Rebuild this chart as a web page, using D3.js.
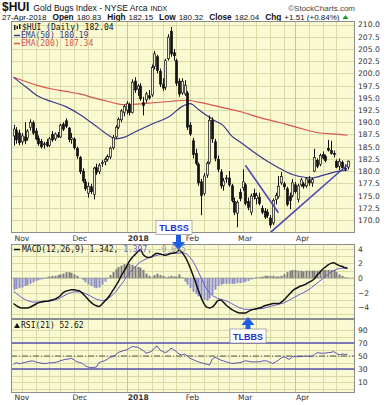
<!DOCTYPE html>
<html><head><meta charset="utf-8">
<script src="https://cdn.jsdelivr.net/npm/d3@7"></script>
<style>body{margin:0;background:#fff}svg{display:block}</style>
</head><body>
<svg id="chart" width="390" height="405"></svg>
<script>
// Trading days shown on the chart
const dates = ("2017-11-01 2017-11-02 2017-11-03 2017-11-06 2017-11-07 2017-11-08 2017-11-09 2017-11-10 2017-11-13 2017-11-14 2017-11-15 2017-11-16 2017-11-17 2017-11-20 2017-11-21 2017-11-22 2017-11-24 2017-11-27 2017-11-28 2017-11-29 2017-11-30 " +
  "2017-12-01 2017-12-04 2017-12-05 2017-12-06 2017-12-07 2017-12-08 2017-12-11 2017-12-12 2017-12-13 2017-12-14 2017-12-15 2017-12-18 2017-12-19 2017-12-20 2017-12-21 2017-12-22 2017-12-26 2017-12-27 2017-12-28 2017-12-29 " +
  "2018-01-02 2018-01-03 2018-01-04 2018-01-05 2018-01-08 2018-01-09 2018-01-10 2018-01-11 2018-01-12 2018-01-16 2018-01-17 2018-01-18 2018-01-19 2018-01-22 2018-01-23 2018-01-24 2018-01-25 2018-01-26 2018-01-29 2018-01-30 2018-01-31 " +
  "2018-02-01 2018-02-02 2018-02-05 2018-02-06 2018-02-07 2018-02-08 2018-02-09 2018-02-12 2018-02-13 2018-02-14 2018-02-15 2018-02-16 2018-02-20 2018-02-21 2018-02-22 2018-02-23 2018-02-26 2018-02-27 2018-02-28 " +
  "2018-03-01 2018-03-02 2018-03-05 2018-03-06 2018-03-07 2018-03-08 2018-03-09 2018-03-12 2018-03-13 2018-03-14 2018-03-15 2018-03-16 2018-03-19 2018-03-20 2018-03-21 2018-03-22 2018-03-23 2018-03-26 2018-03-27 2018-03-28 2018-03-29 " +
  "2018-04-02 2018-04-03 2018-04-04 2018-04-05 2018-04-06 2018-04-09 2018-04-10 2018-04-11 2018-04-12 2018-04-13 2018-04-16 2018-04-17 2018-04-18 2018-04-19 2018-04-20 2018-04-23 2018-04-24 2018-04-25 2018-04-26 2018-04-27").split(" ");

// $HUI daily OHLC
const open = [187.2,188.3,187.8,186.0,187.0,186.8,188.9,189.9,188.2,186.7,186.1,185.4,185.9,185.3,187.5,186.6,187.4,187.0,189.6,190.3,188.8,
  186.5,186.6,184.6,182.8,180.0,177.8,175.5,176.8,175.2,180.7,179.9,181.6,181.9,182.4,182.9,184.8,187.0,189.0,190.5,192.0,
  192.5,193.6,192.0,198.4,196.8,197.4,194.0,194.6,195.4,195.6,201.4,203.4,200.4,197.8,197.2,203.0,208.6,204.2,202.6,198.4,196.0,
  195.8,196.0,189.4,186.2,183.6,181.4,177.8,175.4,179.2,181.8,190.4,186.0,182.4,179.8,177.0,178.4,178.6,177.0,173.8,
  171.4,175.6,176.6,177.2,173.8,171.6,175.4,174.4,174.6,172.4,171.8,171.6,170.4,169.4,174.2,174.8,177.6,177.4,176.4,174.8,175.0,
  177.2,174.2,177.2,177.4,177.0,178.2,177.6,180.0,182.2,181.4,183.4,183.0,184.6,184.2,183.6,182.0,181.0,181.8,180.6,180.83];
const high = [189.5,189.0,188.5,187.8,190.0,188.6,190.6,190.3,188.8,187.3,186.6,186.0,186.6,187.0,188.2,187.9,188.0,189.7,190.0,190.8,189.0,
  187.8,186.9,185.0,183.1,180.6,178.4,177.7,177.4,180.9,181.5,181.6,182.3,182.8,183.4,185.0,187.4,189.4,191.0,192.7,193.6,
  194.3,194.0,198.8,199.2,197.8,198.0,195.2,196.2,196.6,201.8,204.6,203.8,201.0,199.0,203.0,208.0,209.5,205.0,203.0,199.0,199.0,
  198.6,196.4,190.0,186.8,184.6,181.8,178.4,179.6,182.0,191.4,191.0,186.6,183.2,180.4,178.6,179.2,180.0,177.4,174.6,
  174.0,176.4,180.4,177.6,174.6,175.4,176.4,175.6,175.6,173.0,172.4,172.2,171.0,174.4,175.6,179.0,179.8,177.8,176.8,175.6,178.4,
  177.8,177.4,178.6,177.8,178.8,179.0,178.6,184.6,182.6,183.6,184.0,183.4,186.4,186.2,184.2,182.4,182.6,182.2,181.4,182.15];
const low = [185.2,185.6,185.3,185.4,185.5,186.2,188.3,187.4,186.3,185.2,184.6,184.6,184.9,184.9,186.0,186.2,186.8,186.8,188.2,188.8,185.9,
  185.6,184.4,182.5,179.4,177.6,176.0,174.6,175.3,174.2,179.2,179.4,180.9,181.2,182.0,182.5,184.4,186.6,188.6,190.0,191.2,
  191.6,191.4,191.8,196.0,195.4,194.4,191.4,194.0,194.6,195.2,200.8,200.0,197.2,196.4,196.6,202.6,203.4,202.6,197.4,195.2,195.6,
  195.4,188.4,187.2,182.6,181.2,177.0,171.0,175.0,178.6,181.4,185.8,182.0,179.8,176.4,176.0,177.6,176.8,173.6,171.0,
  168.5,173.8,176.0,173.0,172.0,171.0,174.2,173.2,173.0,171.2,170.2,170.4,168.4,169.0,173.2,174.4,177.2,176.2,172.8,172.2,174.6,
  175.4,173.6,176.8,176.4,176.6,177.0,176.8,179.8,180.6,181.0,182.4,181.8,184.0,183.4,182.8,180.6,180.2,180.4,180.0,180.32];
const close = [188.6,186.4,185.8,187.2,186.2,188.2,190.0,187.8,186.6,185.6,185.0,185.6,185.2,186.6,186.4,187.6,187.0,189.4,188.6,189.2,186.5,
  186.8,184.8,183.1,179.9,178.0,176.4,176.9,175.8,180.6,179.7,181.2,181.8,182.4,183.0,184.7,186.9,189.0,190.6,192.3,193.2,
  193.8,192.0,198.2,196.6,197.4,194.8,193.4,195.8,195.0,201.2,204.0,200.6,197.8,197.0,202.6,207.4,204.0,203.6,198.0,195.8,198.4,
  197.6,189.0,187.6,183.4,181.6,177.6,175.0,179.0,181.6,190.4,186.6,182.6,180.4,177.0,178.0,178.6,177.2,174.0,171.6,
  173.6,174.4,177.8,173.4,172.6,174.9,174.8,175.0,173.4,171.6,170.6,170.9,169.0,174.0,175.0,176.9,178.9,176.8,173.2,174.0,177.6,
  175.8,177.0,178.2,176.9,178.4,177.6,178.3,182.8,181.0,183.2,182.7,182.2,184.3,183.6,183.4,180.8,182.0,180.7,180.53,182.04];

// Moving averages, read at selected sessions
const ema50 = [["2017-11-01",199.2],["2017-11-08",197.0],["2017-11-14",195.3],["2017-11-21",194.2],["2017-11-29",193.2],["2017-12-06",191.6],
  ["2017-12-13",189.6],["2017-12-20",187.5],["2017-12-26",186.6],["2017-12-29",186.9],["2018-01-05",188.0],["2018-01-16",189.6],
  ["2018-01-25",191.4],["2018-01-31",193.2],["2018-02-05",193.8],["2018-02-08",192.6],["2018-02-14",191.0],["2018-02-16",190.3],
  ["2018-02-22",189.3],["2018-02-27",187.2],["2018-03-02",186.0],["2018-03-09",183.9],["2018-03-16",182.0],["2018-03-22",180.7],
  ["2018-03-29",179.3],["2018-04-06",178.7],["2018-04-10",178.6],["2018-04-17",179.3],["2018-04-24",180.0],["2018-04-27",180.19]];
const ema200 = [["2017-11-01",199.2],["2017-11-14",197.5],["2017-11-21",196.8],["2017-11-29",196.3],["2017-12-06",195.8],["2017-12-13",195.0],
  ["2017-12-20",194.3],["2017-12-29",193.6],["2018-01-12",193.9],["2018-01-25",194.3],["2018-02-02",194.5],["2018-02-08",194.1],
  ["2018-02-21",193.1],["2018-03-02",192.2],["2018-03-13",191.0],["2018-03-22",190.0],["2018-04-03",188.9],["2018-04-12",187.9],
  ["2018-04-24",187.5],["2018-04-27",187.34]];

// Hand-drawn trend lines [date, price]
const trendDown = [["2018-03-06",181.2],["2018-03-22",171.5]];
const trendUp = [["2018-03-19",167.4],["2018-04-27",181.3]];

// MACD(12,26,9): line, signal, histogram
const macd = [-3.5,-3.8,-4.0,-4.1,-4.1,-4.1,-4.0,-3.8,-3.6,-3.4,-3.3,-3.2,-3.2,-3.1,-3.0,-2.9,-2.7,-2.4,-2.0,-1.8,-1.7,
  -1.6,-1.6,-1.7,-1.8,-2.1,-2.5,-2.9,-3.3,-3.6,-3.8,-3.9,-3.6,-3.2,-2.8,-2.3,-1.7,-1.1,-0.5,0.3,0.9,
  1.6,2.3,2.8,3.2,3.6,3.9,3.2,2.9,2.8,2.9,3.2,3.4,3.3,3.2,3.1,3.2,3.4,3.4,3.5,3.8,3.5,
  3.0,2.3,1.4,0.4,-0.6,-1.7,-2.7,-3.5,-4.0,-4.1,-4.0,-3.6,-3.1,-3.0,-3.3,-3.7,-4.0,-4.3,-4.5,
  -4.7,-4.8,-4.8,-4.8,-4.6,-4.4,-4.3,-4.2,-4.1,-4.0,-3.8,-3.7,-3.6,-3.5,-3.5,-3.5,-3.3,-3.0,-2.6,-2.2,-1.8,
  -1.5,-1.3,-1.1,-1.0,-0.8,-0.6,-0.4,-0.1,0.4,0.8,1.2,1.5,1.8,2.0,2.1,1.9,1.7,1.6,1.4,1.342];
const signal = [-1.8,-2.1,-2.4,-2.7,-2.9,-3.1,-3.2,-3.3,-3.3,-3.3,-3.3,-3.3,-3.2,-3.2,-3.1,-3.0,-2.9,-2.7,-2.5,-2.3,-2.1,
  -2.0,-1.9,-1.9,-1.9,-2.0,-2.1,-2.3,-2.5,-2.7,-2.9,-3.0,-3.1,-3.0,-2.9,-2.6,-2.3,-1.9,-1.4,-0.9,-0.4,
  0.2,0.7,1.1,1.5,1.9,2.2,2.4,2.6,2.8,2.9,3.0,3.1,3.2,3.2,3.3,3.3,3.3,3.4,3.4,3.4,3.5,
  3.4,3.2,2.8,2.3,1.6,0.8,0.0,-0.8,-1.5,-2.0,-2.4,-2.6,-2.8,-2.9,-3.0,-3.1,-3.3,-3.5,-3.7,
  -3.9,-4.1,-4.2,-4.3,-4.3,-4.3,-4.3,-4.3,-4.2,-4.2,-4.1,-4.0,-3.9,-3.8,-3.7,-3.6,-3.5,-3.4,-3.2,-3.0,-2.8,
  -2.6,-2.4,-2.2,-2.0,-1.8,-1.6,-1.3,-1.0,-0.7,-0.4,-0.1,0.2,0.5,0.8,1.0,1.2,1.3,1.35,1.39,1.397];
const histogram = [-1.6,-1.5,-1.4,-1.3,-1.1,-1.0,-0.8,-0.6,-0.4,-0.3,-0.2,-0.1,0.1,0.2,0.3,0.3,0.4,0.5,0.6,0.8,0.8,
  0.7,0.5,0.3,0.0,-0.3,-0.6,-0.9,-1.1,-1.3,-1.4,-1.3,-0.9,-0.5,-0.1,0.4,0.8,1.2,1.5,1.7,1.9,
  1.9,1.9,1.8,1.6,1.5,1.4,1.1,0.6,0.3,0.1,0.4,0.6,0.4,0.3,0.1,0.2,0.3,0.2,0.2,0.5,0.1,
  -0.5,-0.9,-1.4,-1.9,-2.2,-2.5,-2.8,-3.0,-3.1,-2.8,-2.3,-1.6,-1.1,-0.9,-0.8,-0.8,-0.8,-0.8,-0.8,
  -0.7,-0.7,-0.6,-0.5,-0.4,-0.2,-0.1,0.1,0.1,0.2,0.3,0.3,0.3,0.3,0.2,0.2,0.3,0.5,0.8,1.0,1.1,
  1.1,1.0,1.0,0.9,1.0,1.0,1.0,1.0,1.0,1.1,1.1,1.1,1.1,1.1,1.1,0.8,0.5,0.3,0.1,-0.055];

// RSI(21)
const rsi = [37,40,38,39,40,41,42,42.5,41,40,39,38.5,38.6,39.5,39.6,40,41,42.7,44,44.8,45.5,
  46.4,44,41,40,38.6,35,33,32.3,32.5,33,40,41.5,42.7,45,48,49,52,55.5,57,58.5,
  59.4,62,64.6,64,63.5,61,58.5,54.2,55.5,57,62,65.6,59.4,57,55.2,57,62,60,56.8,53,51.6,
  53,50,46.4,44.5,42.7,41,39.6,38.5,37.5,36,45,48,46,43.8,42.5,41,40,38.6,38.6,
  39.5,39.6,41,42.7,42,41,41,41,41,42,42.7,42,40,38.6,41,43.8,47,49,46.5,44.8,49,
  49,49,49,49.5,50,49.5,49,52,55.2,54.5,54.2,54.5,55.2,55.5,56.8,54,51.6,53,52.5,52.62];

// Axis ticks and labels
const priceTicks = [170,172.5,175,177.5,180,182.5,185,187.5,190,192.5,195,197.5,200,202.5,205,207.5,210];
const macdTicks = [4,2,0,-2,-4];
const rsiTicks = [90,70,50,30,10];
const monthStarts = ["2017-11-01","2017-12-01","2018-01-02","2018-02-01","2018-03-01","2018-04-02"];
const monthLabels = ["Nov","Dec","2018","Feb","Mar","Apr"];

// ---------------------------------------------------------------
const svg = d3.select("#chart");
const PL = 11, PR = 355;
const MAIN = [21, 233], MACDP = [244, 319], RSIP = [319, 393];
const BG = "#fafad2", GRID = "#dadaa6", GRID_M = "#c6c692", BORDER = "#8c8c8c";
const monoFont = "'DejaVu Sans Mono', monospace";
const sansFont = "'DejaVu Sans', Verdana, sans-serif";
const hdrFont = "'Liberation Sans', Arial, sans-serif";

const x = d3.scalePoint().domain(dates).range([13.5, 347.5]);
const yP = d3.scaleLinear().domain([170, 210]).range([220, 24.5]);
const yM = d3.scaleLinear().domain([-4, 4]).range([307.2, 248.8]);
const yR = d3.scaleLinear().domain([10, 90]).range([382, 330]);

const bars = dates.map((d, i) => ({d, o: open[i], h: high[i], l: low[i], c: close[i],
  m: macd[i], s: signal[i], hg: histogram[i], r: rsi[i]}));

// week and month boundaries for the vertical grid
const parse = d3.timeParse("%Y-%m-%d");
const weekStarts = dates.filter((d, i) => i > 0 && (parse(d) - parse(dates[i - 1])) / 864e5 > 1 && parse(d).getDay() <= parse(dates[i - 1]).getDay());

function panel(id, [top, bottom], yScale, hLines) {
  const g = svg.append("g");
  g.append("rect").attr("x", PL).attr("y", top).attr("width", PR - PL).attr("height", bottom - top).attr("fill", BG);
  g.append("clipPath").attr("id", id).append("rect").attr("x", PL).attr("y", top).attr("width", PR - PL).attr("height", bottom - top);
  g.selectAll(".hg").data(hLines).join("line")
    .attr("x1", PL).attr("x2", PR).attr("y1", d => Math.round(yScale(d)) + 0.5).attr("y2", d => Math.round(yScale(d)) + 0.5)
    .attr("stroke", GRID).attr("stroke-width", 1);
  g.selectAll(".vg").data(weekStarts).join("line")
    .attr("x1", d => Math.round(x(d)) + 0.5).attr("x2", d => Math.round(x(d)) + 0.5).attr("y1", top).attr("y2", bottom)
    .attr("stroke", d => monthStarts.includes(d) ? GRID_M : GRID).attr("stroke-width", 1);
  const inner = g.append("g").attr("clip-path", `url(#${id})`);
  return {g, inner, top, bottom};
}
function frame(p) {
  p.g.append("rect").attr("x", PL + 0.5).attr("y", p.top + 0.5).attr("width", PR - PL - 1).attr("height", p.bottom - p.top - 1)
    .attr("fill", "none").attr("stroke", BORDER);
}
function rightAxis(scale, ticks, fmt) {
  const ax = d3.axisRight(scale).tickValues(ticks).tickFormat(fmt).tickSize(0).tickPadding(3);
  const a = svg.append("g").attr("transform", `translate(${PR},0)`).call(ax);
  a.select(".domain").remove();
  a.selectAll("text").attr("font-family", sansFont).attr("font-size", 7.6).attr("fill", "#333");
}
function bottomAxis(yPos) {
  const ax = d3.axisBottom(x).tickValues(monthStarts).tickFormat((d, i) => monthLabels[i]).tickSize(0).tickPadding(0);
  const a = svg.append("g").attr("transform", `translate(0,${yPos})`).call(ax);
  a.select(".domain").remove();
  a.selectAll("text").attr("text-anchor", "start").attr("dx", 0.5).attr("dy", "0.71em")
    .attr("font-family", sansFont).attr("font-size", 7.6).attr("fill", "#333")
    .attr("font-weight", (d, i) => monthLabels[i] === "2018" ? "bold" : "normal");
}
// place a run of text pieces one after another on a baseline
function textRun(g, x0, y0, pieces) {
  let cx = x0;
  pieces.forEach(p => {
    const t = g.append("text").attr("x", cx).attr("y", y0).attr("font-size", p.size)
      .attr("font-weight", p.bold ? "bold" : "normal").attr("fill", p.fill || "#111").text(p.t);
    cx += t.node().getComputedTextLength() + (p.gap || 0);
  });
  return cx;
}

// ---- header ----
const hdr = svg.append("g").attr("font-family", hdrFont);
textRun(hdr, 2, 11, [
  {t: "$HUI", size: 12, bold: true, gap: 4},
  {t: "Gold Bugs Index - NYSE Arca", size: 8.6, gap: 3},
  {t: "INDX", size: 7}
]);
hdr.append("text").attr("x", 355).attr("y", 10.5).attr("text-anchor", "end").attr("font-size", 8).attr("fill", "#444").text("\u00A9StockCharts.com");
const endX = textRun(hdr, 2, 19.5, [
  {t: "27-Apr-2018", size: 8, gap: 6},
  {t: "Open", size: 8.3, bold: true, gap: 3}, {t: "180.83", size: 8, gap: 6},
  {t: "High", size: 8.3, bold: true, gap: 3}, {t: "182.15", size: 8, gap: 6},
  {t: "Low", size: 8.3, bold: true, gap: 3}, {t: "180.32", size: 8, gap: 6},
  {t: "Close", size: 8.3, bold: true, gap: 3}, {t: "182.04", size: 8, gap: 6},
  {t: "Chg", size: 8.3, bold: true, gap: 3}, {t: "+1.51 (+0.84%)", size: 8, gap: 3}
]);
hdr.append("path").attr("d", `M${endX},19 L${endX + 3},15 L${endX + 6},19 Z`).attr("fill", "#1a9a1a");

// ---- price panel ----
const pm = panel("clipMain", MAIN, yP, priceTicks);
const lineGen = (ys) => d3.line().x(d => x(d[0])).y(d => ys(d[1])).curve(d3.curveMonotoneX);
pm.inner.append("path").datum(ema200).attr("d", lineGen(yP)).attr("fill", "none").attr("stroke", "#d9534f").attr("stroke-width", 1.2);
pm.inner.append("path").datum(ema50).attr("d", lineGen(yP)).attr("fill", "none").attr("stroke", "#3a3a8c").attr("stroke-width", 1.2);

const cg = pm.inner.append("g");
cg.selectAll("line").data(bars).join("line")
  .attr("x1", d => Math.round(x(d.d)) + 0.5).attr("x2", d => Math.round(x(d.d)) + 0.5)
  .attr("y1", d => yP(d.h)).attr("y2", d => yP(d.l)).attr("stroke", "#111").attr("stroke-width", 1);
cg.selectAll("rect").data(bars).join("rect")
  .attr("x", d => Math.round(x(d.d)) - 0.5).attr("width", 2)
  .attr("y", d => yP(Math.max(d.o, d.c))).attr("height", d => Math.max(0.8, Math.abs(yP(d.o) - yP(d.c))))
  .attr("fill", d => d.c >= d.o ? "#ecebd8" : "#111").attr("stroke", "#111").attr("stroke-width", 0.7);

[trendDown, trendUp].forEach(t => pm.inner.append("path").datum(t)
  .attr("d", d3.line().x(d => x(d[0])).y(d => yP(d[1]))).attr("stroke", "#4a4ab5").attr("stroke-width", 1.6).attr("fill", "none"));

// legend
const lg = pm.g.append("g").attr("font-family", monoFont).attr("font-size", 8);
lg.append("rect").attr("x", 14).attr("y", 25).attr("width", 1.5).attr("height", 5).attr("fill", "#222");
lg.append("rect").attr("x", 16.5).attr("y", 26).attr("width", 1.5).attr("height", 3).attr("fill", "#222");
lg.append("rect").attr("x", 19).attr("y", 24).attr("width", 1.5).attr("height", 5).attr("fill", "#222");
lg.append("text").attr("x", 22).attr("y", 30).attr("fill", "#111").text("$HUI (Daily) 182.04");
lg.append("line").attr("x1", 14).attr("x2", 20).attr("y1", 35.5).attr("y2", 35.5).attr("stroke", "#3a3a8c").attr("stroke-width", 1.5);
lg.append("text").attr("x", 21).attr("y", 38).attr("fill", "#3a3a8c").text("EMA(50) 180.19");
lg.append("line").attr("x1", 14).attr("x2", 20).attr("y1", 43.5).attr("y2", 43.5).attr("stroke", "#d9534f").attr("stroke-width", 1.5);
lg.append("text").attr("x", 21).attr("y", 46).attr("fill", "#d9534f").text("EMA(200) 187.34");
frame(pm);
rightAxis(yP, priceTicks, d3.format(".1f"));
bottomAxis(236);

// ---- MACD panel ----
const pmc = panel("clipMacd", MACDP, yM, [4, 3, 2, 1, 0, -1, -2, -3, -4, -5]);
pmc.inner.selectAll("rect").data(bars).join("rect")
  .attr("x", d => Math.round(x(d.d)) - 0.5).attr("width", 2)
  .attr("y", d => Math.min(yM(0), yM(d.hg))).attr("height", d => Math.abs(yM(d.hg) - yM(0)))
  .attr("fill", d => d.hg >= 0 ? "#7a7a7a" : "#8c8cc8");
pmc.inner.append("line").attr("x1", PL).attr("x2", PR).attr("y1", yM(0)).attr("y2", yM(0)).attr("stroke", "#999").attr("stroke-width", 0.6);
pmc.inner.append("path").datum(bars).attr("d", d3.line().x(d => x(d.d)).y(d => yM(d.s)).curve(d3.curveMonotoneX))
  .attr("fill", "none").attr("stroke", "#6a5acd").attr("stroke-width", 1);
pmc.inner.append("path").datum(bars).attr("d", d3.line().x(d => x(d.d)).y(d => yM(d.m)).curve(d3.curveMonotoneX))
  .attr("fill", "none").attr("stroke", "#111").attr("stroke-width", 1.5);
const ml = pmc.g.append("g").attr("font-family", monoFont).attr("font-size", 8);
ml.append("line").attr("x1", 14).attr("x2", 20).attr("y1", 249.5).attr("y2", 249.5).attr("stroke", "#111").attr("stroke-width", 1.5);
const mt = ml.append("text").attr("x", 22).attr("y", 252);
mt.append("tspan").attr("fill", "#111").text("MACD(12,26,9) 1.342, ");
mt.append("tspan").attr("fill", "#6a5acd").text("1.397, ");
mt.append("tspan").attr("fill", "#999").text("-0.055");
frame(pmc);
rightAxis(yM, macdTicks, d3.format("d"));

// ---- RSI panel ----
const pr = panel("clipRsi", RSIP, yR, [90, 80, 70, 60, 50, 40, 30, 20, 10, 0]);
[70, 30].forEach(v => pr.inner.append("line").attr("x1", PL).attr("x2", PR).attr("y1", yR(v)).attr("y2", yR(v))
  .attr("stroke", "#5a50b4").attr("stroke-width", 1.3));
pr.inner.append("line").attr("x1", PL).attr("x2", PR).attr("y1", yR(50)).attr("y2", yR(50))
  .attr("stroke", "#333").attr("stroke-width", 0.8).attr("stroke-dasharray", "6,2,1,2");
pr.inner.append("path").datum(bars).attr("d", d3.line().x(d => x(d.d)).y(d => yR(d.r)))
  .attr("fill", "none").attr("stroke", "#5a50b4").attr("stroke-width", 1);
const rl = pr.g.append("g").attr("font-family", monoFont).attr("font-size", 8);
rl.append("path").attr("d", "M14,328 L17,323 L20,328 Z").attr("fill", "#111");
rl.append("text").attr("x", 21).attr("y", 328).attr("fill", "#111").text("RSI(21) 52.62");
frame(pr);
rightAxis(yR, rsiTicks, d3.format("d"));
bottomAxis(395);

// ---- annotations ----
function callout(cx, by, label) {
  const a = svg.append("g");
  a.append("rect").attr("x", cx - 18).attr("y", by).attr("width", 36).attr("height", 14)
    .attr("fill", "#fff").attr("stroke", "#9a9a9a").attr("stroke-width", 0.8);
  a.append("text").attr("x", cx).attr("y", by + 10.5).attr("text-anchor", "middle").attr("font-family", hdrFont)
    .attr("font-size", 9).attr("font-weight", "bold").attr("fill", "#1d2ed6").text(label);
}
callout(174, 220.5, "TLBSS");
svg.append("path").attr("d", "M176,235 h5 v7 h4 l-6.5,8 l-6.5,-8 h4 Z").attr("fill", "#1e5ee6");
callout(248, 329, "TLBBS");
svg.append("path").attr("d", "M245.5,329 h5 v-4 h4 l-6.5,-8 l-6.5,8 h4 Z").attr("fill", "#1e5ee6");
</script>
</body></html>
